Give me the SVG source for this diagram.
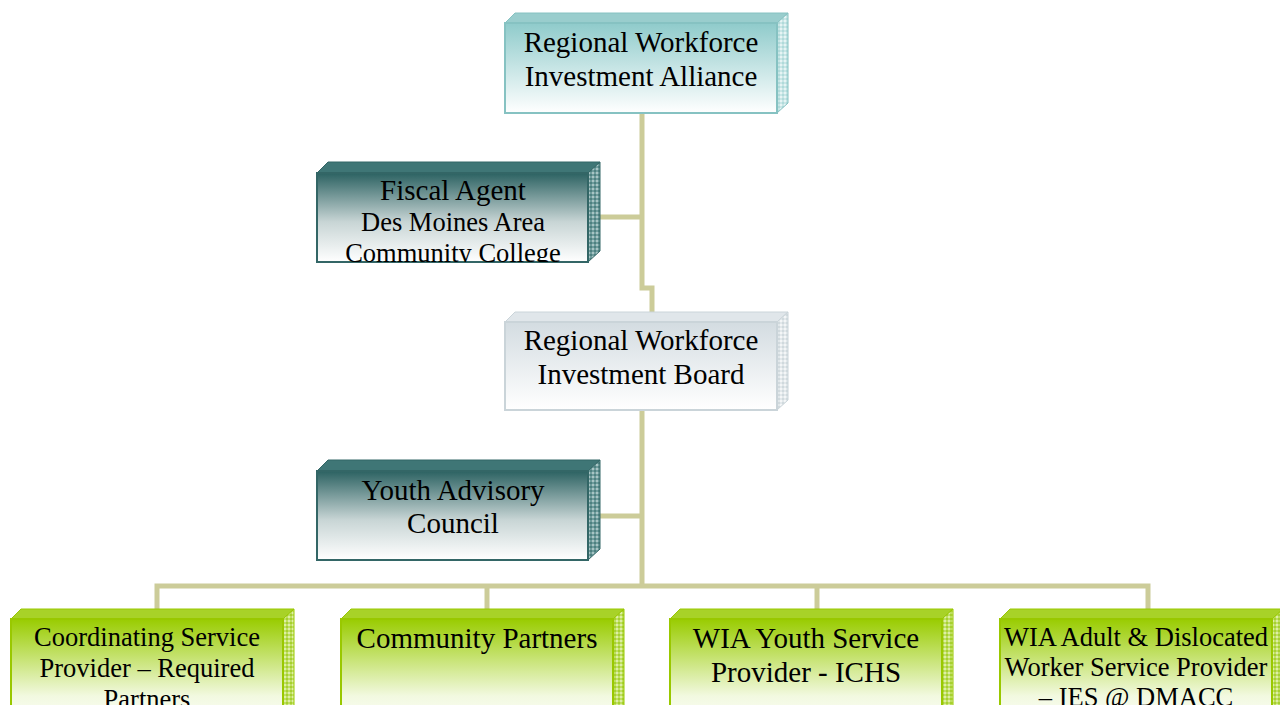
<svg xmlns="http://www.w3.org/2000/svg" width="1280" height="705" viewBox="0 0 1280 705">
<style>
text{font-family:"Liberation Serif","Times New Roman",serif;fill:#000;text-anchor:middle}
.t29{font-size:29px}
.t26{font-size:26.5px}
.conn{fill:none;stroke:#CCCC99;stroke-width:5;stroke-linejoin:miter}
</style>
<defs>
<linearGradient id="gTeal" x1="0" y1="0" x2="0" y2="1"><stop offset="0" stop-color="#8FCBCB"/><stop offset="1" stop-color="#FFFFFF"/></linearGradient>
<linearGradient id="gDark" x1="0" y1="0" x2="0" y2="1"><stop offset="0" stop-color="#2C6262"/><stop offset="0.55" stop-color="#C8D5D5"/><stop offset="1" stop-color="#FFFFFF"/></linearGradient>
<linearGradient id="gGrey" x1="0" y1="0" x2="0" y2="1"><stop offset="0" stop-color="#D3DCE1"/><stop offset="1" stop-color="#FFFFFF"/></linearGradient>
<linearGradient id="gGreen" x1="0" y1="0" x2="0" y2="1"><stop offset="0" stop-color="#99CC00"/><stop offset="0.7" stop-color="#F2F9E0"/><stop offset="1" stop-color="#FFFFFF"/></linearGradient>
<pattern id="pTeal" width="4" height="4" patternUnits="userSpaceOnUse"><rect width="4" height="4" fill="#C8E6E6"/><rect width="2" height="2" fill="#E6F4F4"/><rect x="2" y="2" width="2" height="2" fill="#B0DADA"/></pattern>
<pattern id="pDark" width="4" height="4" patternUnits="userSpaceOnUse"><rect width="4" height="4" fill="#6E9C9C"/><rect width="2" height="2" fill="#A8C4C4"/><rect x="2" y="2" width="2" height="2" fill="#4E8080"/></pattern>
<pattern id="pGrey" width="4" height="4" patternUnits="userSpaceOnUse"><rect width="4" height="4" fill="#E2E8EB"/><rect width="2" height="2" fill="#F4F6F7"/><rect x="2" y="2" width="2" height="2" fill="#D0D9DD"/></pattern>
<pattern id="pGreen" width="4" height="4" patternUnits="userSpaceOnUse"><rect width="4" height="4" fill="#BFDF60"/><rect width="2" height="2" fill="#DDEEA6"/><rect x="2" y="2" width="2" height="2" fill="#A6D030"/></pattern>
<clipPath id="cFiscal"><rect x="317" y="173" width="271" height="89"/></clipPath>
</defs>

<g id="connectors">
<path class="conn" d="M642,113 V288 H652 V312"/>
<path class="conn" d="M599,217 H642"/>
<path class="conn" d="M642,410 V586"/>
<path class="conn" d="M599,516 H642"/>
<path class="conn" d="M157,609 V586 H1148 V609"/>
<path class="conn" d="M487,586 V609"/>
<path class="conn" d="M817,586 V609"/>
</g>

<g id="node-alliance">
<polygon points="505,23 515,13 788,13 777,23" fill="#99CDCD" stroke="#86C2C2" stroke-width="1"/>
<polygon points="777,23 788,13 788,103 777,113" fill="url(#pTeal)" stroke="#86C2C2" stroke-width="1"/>
<rect x="505" y="23" width="272" height="90" fill="url(#gTeal)" stroke="#86C2C2" stroke-width="2"/>
<text class="t29" x="641" y="52">Regional Workforce</text>
<text class="t29" x="641" y="86">Investment Alliance</text>
</g>

<g id="node-fiscal">
<polygon points="317,173 328,162 600,162 588,173" fill="#3F7676" stroke="#336666" stroke-width="1"/>
<polygon points="588,173 600,162 600,251 588,262" fill="url(#pDark)" stroke="#336666" stroke-width="1"/>
<rect x="317" y="173" width="271" height="89" fill="url(#gDark)" stroke="#336666" stroke-width="2"/>
<g clip-path="url(#cFiscal)">
<text class="t29" x="453" y="200">Fiscal Agent</text>
<text class="t26" x="453" y="231">Des Moines Area</text>
<text class="t26" x="453" y="262">Community College</text>
</g>
</g>

<g id="node-board">
<polygon points="505,322 515,312 788,312 777,322" fill="#E0E6EA" stroke="#CAD4D9" stroke-width="1"/>
<polygon points="777,322 788,312 788,400 777,410" fill="url(#pGrey)" stroke="#CAD4D9" stroke-width="1"/>
<rect x="505" y="322" width="272" height="88" fill="url(#gGrey)" stroke="#CAD4D9" stroke-width="2"/>
<text class="t29" x="641" y="350">Regional Workforce</text>
<text class="t29" x="641" y="384">Investment Board</text>
</g>

<g id="node-youth">
<polygon points="317,471 328,460 600,460 588,471" fill="#3F7676" stroke="#336666" stroke-width="1"/>
<polygon points="588,471 600,460 600,549 588,560" fill="url(#pDark)" stroke="#336666" stroke-width="1"/>
<rect x="317" y="471" width="271" height="89" fill="url(#gDark)" stroke="#336666" stroke-width="2"/>
<text class="t29" x="453" y="500">Youth Advisory</text>
<text class="t29" x="453" y="533">Council</text>
</g>

<g id="node-coordinating">
<polygon points="11,619 21,609 294,609 283,619" fill="#A8D228" stroke="#99C800" stroke-width="1"/>
<polygon points="283,619 294,609 294,705 283,715" fill="url(#pGreen)" stroke="#99C800" stroke-width="1"/>
<rect x="11" y="619" width="272" height="110" fill="url(#gGreen)" stroke="#99C800" stroke-width="2"/>
<text class="t26" x="147" y="646">Coordinating Service</text>
<text class="t26" x="147" y="677">Provider – Required</text>
<text class="t26" x="147" y="708">Partners</text>
</g>

<g id="node-community">
<polygon points="341,619 351,609 624,609 613,619" fill="#A8D228" stroke="#99C800" stroke-width="1"/>
<polygon points="613,619 624,609 624,705 613,715" fill="url(#pGreen)" stroke="#99C800" stroke-width="1"/>
<rect x="341" y="619" width="272" height="110" fill="url(#gGreen)" stroke="#99C800" stroke-width="2"/>
<text class="t29" x="477" y="648">Community Partners</text>
</g>

<g id="node-wia-youth">
<polygon points="670,619 680,609 953,609 942,619" fill="#A8D228" stroke="#99C800" stroke-width="1"/>
<polygon points="942,619 953,609 953,705 942,715" fill="url(#pGreen)" stroke="#99C800" stroke-width="1"/>
<rect x="670" y="619" width="272" height="110" fill="url(#gGreen)" stroke="#99C800" stroke-width="2"/>
<text class="t29" x="806" y="648">WIA Youth Service</text>
<text class="t29" x="806" y="682">Provider - ICHS</text>
</g>

<g id="node-wia-adult">
<polygon points="1000,619 1010,609 1283,609 1272,619" fill="#A8D228" stroke="#99C800" stroke-width="1"/>
<polygon points="1272,619 1283,609 1283,705 1272,715" fill="url(#pGreen)" stroke="#99C800" stroke-width="1"/>
<rect x="1000" y="619" width="272" height="110" fill="url(#gGreen)" stroke="#99C800" stroke-width="2"/>
<text class="t26" x="1136" y="646">WIA Adult &amp; Dislocated</text>
<text class="t26" x="1136" y="676">Worker Service Provider</text>
<text class="t26" x="1136" y="706">– IES @ DMACC</text>
</g>
</svg>
